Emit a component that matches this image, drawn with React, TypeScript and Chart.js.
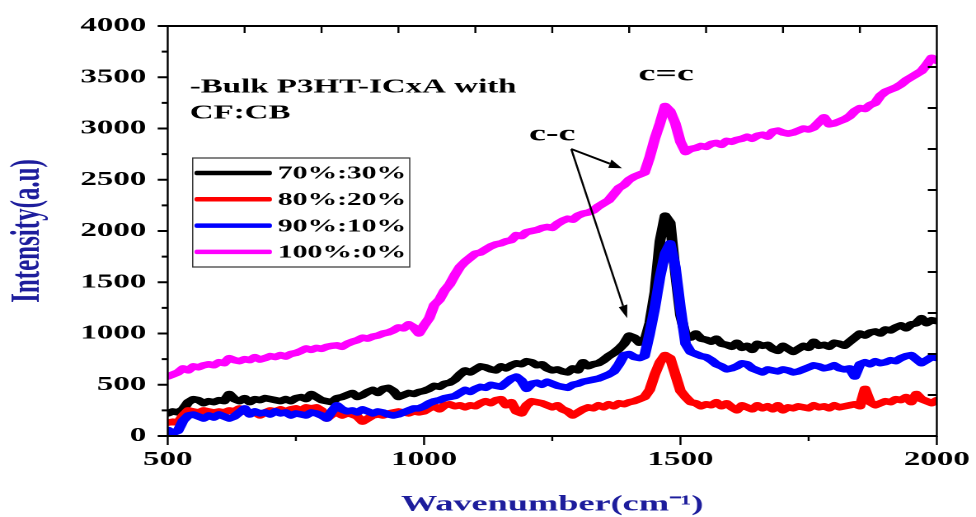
import React, { useEffect, useRef } from 'react';
import { Chart, registerables } from 'chart.js';

Chart.register(...registerables);

// ---------- data ----------
const WAVENUMBER = [
  500, 510, 520, 530, 540, 550, 560, 570, 580, 590,
  600, 610, 620, 630, 640, 650, 660, 670, 680, 690,
  700, 710, 720, 730, 740, 750, 760, 770, 780, 790,
  800, 810, 820, 830, 840, 850, 860, 870, 880, 890,
  900, 910, 920, 930, 940, 950, 960, 970, 980, 990,
  1000, 1010, 1020, 1030, 1040, 1050, 1060, 1070, 1080, 1090,
  1100, 1110, 1120, 1130, 1140, 1150, 1160, 1170, 1180, 1190,
  1200, 1210, 1220, 1230, 1240, 1250, 1260, 1270, 1280, 1290,
  1300, 1310, 1320, 1330, 1340, 1350, 1360, 1370, 1380, 1390,
  1400, 1410, 1420, 1430, 1440, 1450, 1460, 1470, 1480, 1490,
  1500, 1510, 1520, 1530, 1540, 1550, 1560, 1570, 1580, 1590,
  1600, 1610, 1620, 1630, 1640, 1650, 1660, 1670, 1680, 1690,
  1700, 1710, 1720, 1730, 1740, 1750, 1760, 1770, 1780, 1790,
  1800, 1810, 1820, 1830, 1840, 1850, 1860, 1870, 1880, 1890,
  1900, 1910, 1920, 1930, 1940, 1950, 1960, 1970, 1980, 1990,
  2000,
];

const S70_30 = [
  220, 240, 230, 260, 330, 360, 350, 320, 340, 330,
  350, 340, 410, 360, 340, 370, 330, 360, 350, 370,
  360, 350, 340, 360, 340, 370, 380, 360, 410, 380,
  350, 340, 330, 370, 380, 400, 420, 380, 400, 430,
  450, 420, 460, 470, 440, 380, 400, 420, 410, 430,
  440, 460, 490, 480, 510, 520, 550, 600, 640, 620,
  650, 680, 670, 650, 640, 680, 660, 690, 710, 700,
  730, 720, 690, 700, 660, 640, 650, 630, 620, 660,
  640, 720, 680, 700, 710, 740, 780, 810, 850, 900,
  980, 960, 910, 920, 1100, 1400, 1900, 2150, 2080, 1600,
  1180, 980, 960, 1000, 950, 940, 920, 950, 900, 890,
  870, 910, 860, 880, 840, 900, 880, 890, 850, 830,
  880, 850, 820, 850, 880, 860, 920, 880, 890, 870,
  910, 900, 880, 920, 960, 1000, 980, 1010, 1020, 1000,
  1040, 1030, 1060, 1080, 1050, 1090, 1100, 1150, 1100, 1130,
  1120,
];

const S80_20 = [
  130, 140, 130, 200, 250, 240, 230, 250, 240, 230,
  240, 230, 250, 240, 270, 240, 220, 230, 200, 230,
  250, 240, 260, 240, 260, 270, 250, 280, 270, 280,
  250, 170, 210, 230, 200, 220, 210, 190, 140, 170,
  200, 210, 200, 220, 230, 240, 230, 220, 240, 230,
  240, 270, 290, 260, 300, 310, 290, 300, 280, 300,
  290, 320, 340, 320, 350, 360, 300, 330, 240, 220,
  300, 340, 330, 320, 300, 280, 300, 260, 240, 200,
  230, 260, 280, 270, 300, 280, 310, 290, 320, 310,
  330, 340, 360, 380, 450, 600, 720, 790, 760, 600,
  440, 380, 330, 320, 290, 310, 300, 330, 290, 320,
  280, 250, 300, 280, 260, 300, 270, 290, 260, 300,
  250, 280, 270, 290, 280, 270, 300, 280, 290, 270,
  300, 280, 290, 300, 310, 290, 460, 330, 300, 320,
  340, 330, 360, 350, 380, 330, 410, 360, 340, 320,
  350,
];

const S90_10 = [
  60, 30, 50, 150, 200, 210, 190, 170, 200, 180,
  210, 190, 170, 190, 230, 270, 210, 240, 220, 230,
  210, 240, 220, 230, 200, 220, 210, 200, 230, 220,
  200, 170, 240, 300, 260, 240, 250, 230, 260, 240,
  220, 240, 230, 210, 200, 210, 230, 250, 270, 270,
  290, 320, 340, 350, 370, 380, 390, 420, 450, 430,
  460, 480, 470, 500, 490, 480, 520, 560, 580, 540,
  460, 510, 520, 500, 530, 510, 490, 480, 470, 500,
  510, 530, 540, 550, 560, 580, 600, 630, 700, 790,
  800, 770, 760, 780, 1000, 1250, 1550, 1780, 1880, 1650,
  1250, 900, 820, 800, 780, 770, 740, 700, 680, 650,
  660, 680, 710, 700, 660, 640, 620, 650, 640, 630,
  650, 640, 620, 630, 650, 670, 690, 680, 660, 670,
  690, 660, 650, 660, 580, 700, 720, 700, 730, 710,
  720, 740, 730, 760, 780, 790, 750, 710, 740, 770,
  760,
];

const S100_0 = [
  580, 600, 620, 660, 640, 680, 670, 690, 700, 690,
  720, 710, 760, 740, 730, 750, 740, 770, 745, 760,
  780, 770, 790, 775, 800, 810, 830, 855, 840, 860,
  850, 870, 880, 885, 870, 900, 920, 935, 960, 950,
  970, 980, 1000, 1010, 1030, 1060, 1050, 1090, 1060, 1000,
  1080, 1150, 1280, 1330, 1420, 1480, 1570, 1650, 1700, 1740,
  1780, 1790, 1820, 1850, 1870, 1880, 1900, 1910, 1960, 1950,
  1990, 2000, 2010, 2030, 2040, 2030, 2070, 2100, 2120, 2110,
  2150, 2170, 2180, 2200, 2240, 2270, 2300, 2360, 2420, 2450,
  2500, 2530, 2550, 2570, 2720, 2900, 3050, 3220, 3170, 3050,
  2870, 2770, 2800, 2810, 2830, 2820, 2850, 2860, 2840, 2880,
  2870, 2890, 2900, 2920, 2900, 2930, 2940, 2920, 2970, 2980,
  2960, 2950, 2960, 2980, 3000, 2990, 3010, 3060, 3110, 3040,
  3050, 3070, 3090, 3120, 3170, 3200, 3190, 3230, 3250, 3320,
  3360, 3380, 3400, 3430, 3470, 3500, 3530, 3560, 3620, 3690,
  3660,
];

const SERIES = [S70_30, S80_20, S90_10, S100_0];
const SERIES_LABELS = ['70%:30%', '80%:20%', '90%:10%', '100%:0%'];
const SERIES_COLORS = ['#000000', '#ff0000', '#0000ff', '#ff00ff'];
const SERIES_ORDER = [2, 1, 0, 3];

const X_TICKS = [500, 1000, 1500, 2000];
const X_MINOR = [750, 1250, 1750];
const Y_TICKS = [0, 500, 1000, 1500, 2000, 2500, 3000, 3500, 4000];
const Y_MINOR = [250, 750, 1250, 1750, 2250, 2750, 3250, 3750];
const TOP_TICKS = [650, 800, 950, 1100, 1250, 1400, 1550, 1700, 1850];
const RIGHT_TICKS = [400, 800, 1200, 1600, 2000, 2400, 2800, 3200, 3600];

const NOTE_LINES = ['-Bulk P3HT-ICxA with', 'CF:CB'];
const NOTE_POS = [
  [543, 3353],
  [543, 3100],
];
const PEAK_LABELS = ['c=c', 'c-c'];
const PEAK_LABEL_POS = [
  [1472, 3470],
  [1250, 2885],
];
const ARROW_FROM = [1287, 2800];
const ARROW_TO = [
  [1386, 2612],
  [1396, 1150],
];

// ---------- layout ----------
const DISPLAY_W = 976;
const DISPLAY_H = 517;
const CANVAS_W = 592;
const S = DISPLAY_W / CANVAS_W; // horizontal stretch of the reference
const SERIF = '"Liberation Serif", "Times New Roman", serif';
const AXIS_BLUE = '#1d1d9c';

const framePlugin = {
  id: 'frameAndNotes',
  afterDatasetsDraw(chart: any) {
    const { ctx, chartArea: a, scales } = chart;
    const xs = scales.x;
    const ys = scales.y;
    const X = (v: number) => xs.getPixelForValue(v);
    const Y = (v: number) => ys.getPixelForValue(v);

    // ---- frame, ticks, arrows, legend box in display space ----
    ctx.save();
    ctx.scale(1 / S, 1);
    const L = a.left * S;
    const R = a.right * S;
    const T = a.top;
    const B = a.bottom;
    ctx.strokeStyle = '#000';
    ctx.lineWidth = 2;
    ctx.lineCap = 'butt';
    ctx.strokeRect(L, T, R - L, B - T);
    ctx.beginPath();
    X_TICKS.forEach((v) => { ctx.moveTo(X(v) * S, B); ctx.lineTo(X(v) * S, B + 9); });
    X_MINOR.forEach((v) => { ctx.moveTo(X(v) * S, B); ctx.lineTo(X(v) * S, B + 5); });
    Y_TICKS.forEach((v) => { ctx.moveTo(L, Y(v)); ctx.lineTo(L - 10, Y(v)); });
    Y_MINOR.forEach((v) => { ctx.moveTo(L, Y(v)); ctx.lineTo(L - 6, Y(v)); });
    TOP_TICKS.forEach((v) => { ctx.moveTo(X(v) * S, T); ctx.lineTo(X(v) * S, T + 7); });
    RIGHT_TICKS.forEach((v) => { ctx.moveTo(R, Y(v)); ctx.lineTo(R - 9, Y(v)); });
    ctx.stroke();

    // arrows
    const fx = X(ARROW_FROM[0]) * S;
    const fy = Y(ARROW_FROM[1]);
    ARROW_TO.forEach(([tx0, ty0]) => {
      const tx = X(tx0) * S;
      const ty = Y(ty0);
      const ang = Math.atan2(ty - fy, tx - fx);
      const hl = 13;
      const hw = 4.5;
      const bx = tx - hl * Math.cos(ang);
      const by = ty - hl * Math.sin(ang);
      ctx.beginPath();
      ctx.lineWidth = 2;
      ctx.moveTo(fx, fy);
      ctx.lineTo(bx, by);
      ctx.stroke();
      ctx.beginPath();
      ctx.moveTo(tx, ty);
      ctx.lineTo(bx + hw * Math.sin(ang), by - hw * Math.cos(ang));
      ctx.lineTo(bx - hw * Math.sin(ang), by + hw * Math.cos(ang));
      ctx.closePath();
      ctx.fillStyle = '#000';
      ctx.fill();
    });

    // legend box and sample lines
    const lgX = L + 25;
    const lgY = T + 132;
    const lgW = 217;
    const lgH = 109;
    ctx.fillStyle = '#fff';
    ctx.fillRect(lgX, lgY, lgW, lgH);
    ctx.lineWidth = 1.2;
    ctx.strokeStyle = '#333';
    ctx.strokeRect(lgX, lgY, lgW, lgH);
    const ds = chart.data.datasets;
    ds.forEach((d: any, i: number) => {
      const ry = lgY + 15 + i * 26.3;
      ctx.beginPath();
      ctx.strokeStyle = d.borderColor;
      ctx.lineWidth = 4.5;
      ctx.lineCap = 'round';
      ctx.moveTo(lgX + 4, ry);
      ctx.lineTo(lgX + 77, ry);
      ctx.stroke();
    });
    ctx.restore();

    // ---- texts in canvas space (stretched like the reference) ----
    ctx.save();
    ctx.fillStyle = '#000';
    ctx.textBaseline = 'middle';
    ctx.textAlign = 'left';
    ctx.font = `bold 18px ${SERIF}`;
    ds.forEach((d: any, i: number) => {
      const ry = lgY + 15 + i * 26.3;
      ctx.fillText(d.label, (lgX + 85) / S, ry + 1);
    });

    ctx.textBaseline = 'alphabetic';
    ctx.font = `bold 20px ${SERIF}`;
    NOTE_LINES.forEach((t, i) => {
      ctx.fillText(t, X(NOTE_POS[i][0]), Y(NOTE_POS[i][1]));
    });
    ctx.textAlign = 'center';
    ctx.font = `bold 23px ${SERIF}`;
    PEAK_LABELS.forEach((t, i) => {
      ctx.fillText(t, X(PEAK_LABEL_POS[i][0]), Y(PEAK_LABEL_POS[i][1]));
    });
    ctx.restore();
  },
};

export default function App() {
  const canvasRef = useRef<HTMLCanvasElement | null>(null);

  useEffect(() => {
    if (!canvasRef.current) return;
    const chart = new Chart(canvasRef.current, {
      type: 'line',
      data: {
        datasets: SERIES.map((vals, i) => ({
          label: SERIES_LABELS[i],
          data: vals.map((v, j) => ({ x: WAVENUMBER[j], y: v })),
          borderColor: SERIES_COLORS[i],
          backgroundColor: SERIES_COLORS[i],
          borderWidth: 6.5,
          pointRadius: 0,
          tension: 0,
          borderJoinStyle: 'round',
          borderCapStyle: 'round',
          order: SERIES_ORDER[i],
        })),
      },
      options: {
        animation: false,
        responsive: false,
        devicePixelRatio: 2,
        layout: { padding: { top: 26, right: CANVAS_W - 936.8 / S, bottom: 0, left: 0 } },
        plugins: {
          legend: { display: false },
          title: { display: false },
          tooltip: { enabled: false },
        },
        scales: {
          x: {
            type: 'linear',
            min: 500,
            max: 2000,
            afterBuildTicks: (scale: any) => { scale.ticks = X_TICKS.map((v) => ({ value: v })); },
            afterFit: (scale: any) => {
              scale.height = DISPLAY_H - 436;
              scale.paddingLeft = 0;
              scale.paddingRight = 0;
            },
            grid: { display: false, drawTicks: false },
            border: { display: false },
            ticks: {
              padding: 12,
              color: '#000',
              font: { family: SERIF, size: 20, weight: 'bold' },
              maxRotation: 0,
              callback: (v: any) => String(v),
            },
            title: {
              display: true,
              text: 'Wavenumber(cm\u207B\u00B9)',
              color: AXIS_BLUE,
              font: { family: SERIF, size: 22, weight: 'bold', lineHeight: 1.1 },
              padding: { top: 0, bottom: 0 },
            },
          },
          y: {
            type: 'linear',
            min: 0,
            max: 4000,
            afterBuildTicks: (scale: any) => { scale.ticks = Y_TICKS.map((v) => ({ value: v })); },
            afterFit: (scale: any) => {
              scale.width = 167.7 / S;
              scale.paddingTop = 0;
              scale.paddingBottom = 0;
            },
            grid: { display: false, drawTicks: false },
            border: { display: false },
            ticks: {
              padding: 13,
              color: '#000',
              font: { family: SERIF, size: 20, weight: 'bold' },
              callback: (v: any) => String(v),
            },
            title: {
              display: true,
              text: 'Intensity(a.u)',
              color: AXIS_BLUE,
              font: { family: SERIF, size: 25, weight: 'bold' },
              padding: { top: 2, bottom: 0 },
            },
          },
        },
      },
      plugins: [framePlugin],
    } as any);
    return () => chart.destroy();
  }, []);

  return (
    <div
      style={{
        position: 'absolute',
        left: 0,
        top: 0,
        width: DISPLAY_W,
        height: DISPLAY_H,
        overflow: 'hidden',
        background: '#fff',
      }}
    >
      <canvas
        ref={canvasRef}
        width={CANVAS_W}
        height={DISPLAY_H}
        style={{
          display: 'block',
          width: `${CANVAS_W}px`,
          height: `${DISPLAY_H}px`,
          transform: `scaleX(${S})`,
          transformOrigin: '0 0',
        }}
      />
    </div>
  );
}
